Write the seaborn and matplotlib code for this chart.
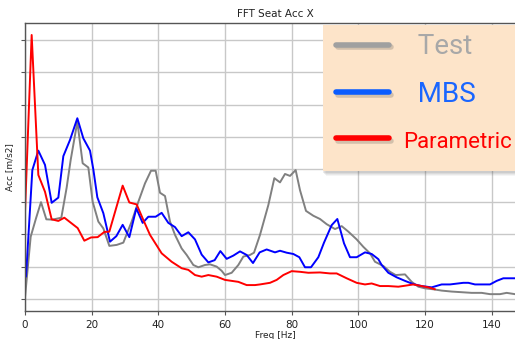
import numpy as np
import pandas as pd
import matplotlib
matplotlib.use("Agg")
import matplotlib.pyplot as plt
import matplotlib.patheffects as pe
from matplotlib.lines import Line2D
from matplotlib.patches import Rectangle
import seaborn as sns

# ---------------- data ----------------
series_names = ["Test", "MBS", "Parametric"]

test_f = [0, 1.7, 3.3, 4.8, 6.4, 8.2, 10.9, 12.5, 13.7, 15.7, 17.3, 19.0, 20.3, 22.0, 23.5,
          25.3, 27.5, 29.5, 32.0, 34.0, 36.0, 37.8, 39.2, 40.5, 42.0, 43.5, 45.0, 47.0, 48.5,
          50.5, 52.0, 54.0, 55.5, 57.5, 59.0, 60.0, 62.0, 64.0, 65.5, 67.5, 68.7, 70.5, 73.0,
          74.8, 76.5, 78.0, 79.5, 81.2, 82.5, 84.3, 86.5, 88.5, 90.5, 93.0, 95.0, 97.0, 99.5,
          101.5, 103.5, 105, 107.5, 109.5, 111.2, 114, 116, 118, 120, 122.5, 125, 128, 131,
          134, 137, 139.5, 142.5, 144.5, 147]
test_v = [0.05, 1.92, 2.49, 2.99, 2.46, 2.45, 2.51, 3.44, 4.29, 5.47, 4.19, 4.06, 3.00, 2.39,
          2.18, 1.64, 1.67, 1.74, 2.39, 3.00, 3.57, 3.96, 3.96, 3.28, 3.18, 2.39, 1.98, 1.56,
          1.36, 1.05, 0.98, 1.05, 1.07, 1.00, 0.87, 0.74, 0.81, 1.05, 1.31, 1.36, 1.43, 1.98,
          2.90, 3.73, 3.60, 3.86, 3.80, 3.98, 3.36, 2.72, 2.57, 2.47, 2.31, 2.16, 2.25, 2.08,
          1.84, 1.61, 1.41, 1.15, 1.02, 0.84, 0.74, 0.76, 0.53, 0.38, 0.33, 0.30, 0.26, 0.23,
          0.21, 0.19, 0.19, 0.15, 0.15, 0.19, 0.15]

mbs_f = [0.3, 2.2, 4, 6, 8, 10, 11.5, 13.5, 15.7, 17.5, 19.5, 20.5, 21.7, 23.5, 25.5, 27.4,
         29.3, 31.3, 33.4, 35.3, 37, 39.2, 41, 43, 45, 47, 49, 51, 53, 55, 56.9, 58.6, 60.5,
         62.5, 64.5, 66.5, 68.4, 70.4, 72.5, 75, 76.5, 78.5, 80.5, 82.3, 84, 85.8, 88, 89.7,
         92, 93.7, 95.7, 97.5, 99.5, 102, 104, 106, 107, 109, 111.5, 114, 116.5, 119, 122,
         125, 127.5, 131.5, 133, 135, 139.5, 141.5, 143.5, 147]
mbs_v = [0.69, 3.98, 4.58, 4.14, 2.97, 3.13, 4.41, 4.91, 5.58, 4.96, 4.58, 4.0, 3.14, 2.65,
         1.77, 1.94, 2.29, 1.91, 2.80, 2.35, 2.54, 2.54, 2.66, 2.35, 2.22, 1.94, 2.06, 1.84,
         1.37, 1.13, 1.20, 1.48, 1.24, 1.34, 1.47, 1.36, 1.11, 1.44, 1.53, 1.44, 1.49, 1.43,
         1.39, 1.29, 0.98, 0.98, 1.29, 1.74, 2.28, 2.47, 1.72, 1.29, 1.29, 1.44, 1.39, 1.23,
         1.05, 0.81, 0.67, 0.56, 0.46, 0.40, 0.36, 0.45, 0.45, 0.50, 0.50, 0.45, 0.45, 0.56,
         0.64, 0.64]

par_f = [0, 2, 4, 6, 8, 10, 11.8, 13.8, 15.8, 17.8, 19.8, 21.8, 23.8, 25.3, 29.3, 31.3, 33.5,
         35.5, 37.5, 41, 44, 47, 49, 51, 53, 55, 57.5, 60, 64, 66.5, 69, 70.5, 73.5, 75.5,
         77.5, 80, 82.5, 85, 88.5, 91.5, 93.5, 96.5, 99.5, 102, 104, 106.5, 109, 112, 114,
         116.5, 119, 121, 123]
par_v = [2.69, 8.15, 3.83, 3.31, 2.46, 2.41, 2.51, 2.35, 2.19, 1.80, 1.90, 1.91, 2.07, 2.08,
         3.50, 2.98, 2.92, 2.44, 1.98, 1.41, 1.15, 0.95, 0.90, 0.74, 0.69, 0.74, 0.69, 0.59,
         0.53, 0.43, 0.43, 0.45, 0.50, 0.59, 0.74, 0.86, 0.84, 0.81, 0.82, 0.79, 0.79, 0.64,
         0.50, 0.45, 0.48, 0.40, 0.40, 0.38, 0.41, 0.45, 0.40, 0.36, 0.30]

x_ticks = [0, 20, 40, 60, 80, 100, 120, 140]
y_ticks = [0, 1, 2, 3, 4, 5, 6, 7, 8]

# ---------------- build long table ----------------
df = pd.concat([
    pd.DataFrame({"Freq": test_f, "Acc": test_v, "series": "Test"}),
    pd.DataFrame({"Freq": mbs_f, "Acc": mbs_v, "series": "MBS"}),
    pd.DataFrame({"Freq": par_f, "Acc": par_v, "series": "Parametric"}),
], ignore_index=True)

sns.set_theme(style="ticks")
plt.rcParams["font.family"] = ["DejaVu Sans"]

fig = plt.figure(figsize=(5.15, 3.39), dpi=100)
W, H = 515, 339
ax = fig.add_axes([25 / W, (H - 311) / H, 500 / W, (311 - 23) / H])

line_colors = {"Test": "#808080", "MBS": "#0000ff", "Parametric": "#ff0000"}
sns.lineplot(data=df, x="Freq", y="Acc", hue="series", hue_order=series_names,
             palette=line_colors, estimator=None, sort=False, linewidth=1.4,
             legend=False, ax=ax)

ax.set_xlim(0, 150)
ax.set_ylim(-0.37, 8.52)
ax.set_xticks(x_ticks)
ax.set_xticklabels([str(t) for t in x_ticks])
ax.set_yticks(y_ticks)
ax.set_yticklabels([])
ax.grid(True, color="#c8c8c8", linewidth=1.0)
ax.set_axisbelow(True)
for s in ["left", "bottom", "top", "right"]:
    ax.spines[s].set_color("#555555")
    ax.spines[s].set_linewidth(1.0)
ax.tick_params(axis="both", direction="out", length=3, width=0.8, color="#555555",
               labelsize=7.5, labelcolor="#222222", pad=3.5)
ax.set_title("FFT Seat Acc X", fontsize=7.5, color="#222222", pad=4)
ax.set_xlabel("Freq [Hz]", fontsize=6.5, color="#222222", labelpad=0.5)
ax.set_ylabel("Acc [m/s2]", fontsize=6.5, color="#222222", labelpad=1)

# ---------------- legend background box (with soft shadow) ----------------
bx0, by0, bx1, by1 = 323, 25, 530, 171   # pixels from top-left
for k, a in [(4, 0.06), (3, 0.08), (2, 0.10), (1, 0.12)]:
    fig.patches.append(Rectangle(((bx0 + k - 1) / W, (H - by1 - k - 1) / H),
                                 (bx1 - bx0) / W, (by1 - by0) / H,
                                 transform=fig.transFigure, facecolor="#606060",
                                 edgecolor="none", alpha=a, zorder=10))
fig.patches.append(Rectangle((bx0 / W, (H - by1) / H), (bx1 - bx0) / W, (by1 - by0) / H,
                             transform=fig.transFigure, facecolor="#fde4c9",
                             edgecolor="none", zorder=11))

# ---------------- legend ----------------
handle_colors = ["#a0a0a0", "#0a5cff", "#ff0000"]
text_colors = ["#a8a8a8", "#1a66ff", "#ff0000"]
labels = ["  Test", "  MBS", "Parametric"]
shadow = [pe.SimpleLineShadow(offset=(1, -2), alpha=0.25, shadow_color="#555555"), pe.Normal()]
handles = [Line2D([0], [0], color=c, linewidth=4, path_effects=shadow) for c in handle_colors]
leg = fig.legend(handles, labels, loc="upper left",
                 bbox_to_anchor=(328 / W, 1 - 25 / H), bbox_transform=fig.transFigure,
                 borderaxespad=0, prop={"family": "Roboto", "size": 20},
                 handlelength=1.9, handletextpad=0.52, borderpad=0.3, labelspacing=0.74,
                 frameon=False)
leg.set_zorder(12)
for t, c in zip(leg.get_texts(), text_colors):
    t.set_color(c)
leg.get_texts()[2].set_fontsize(16)

fig.savefig("out.png", dpi=100)
